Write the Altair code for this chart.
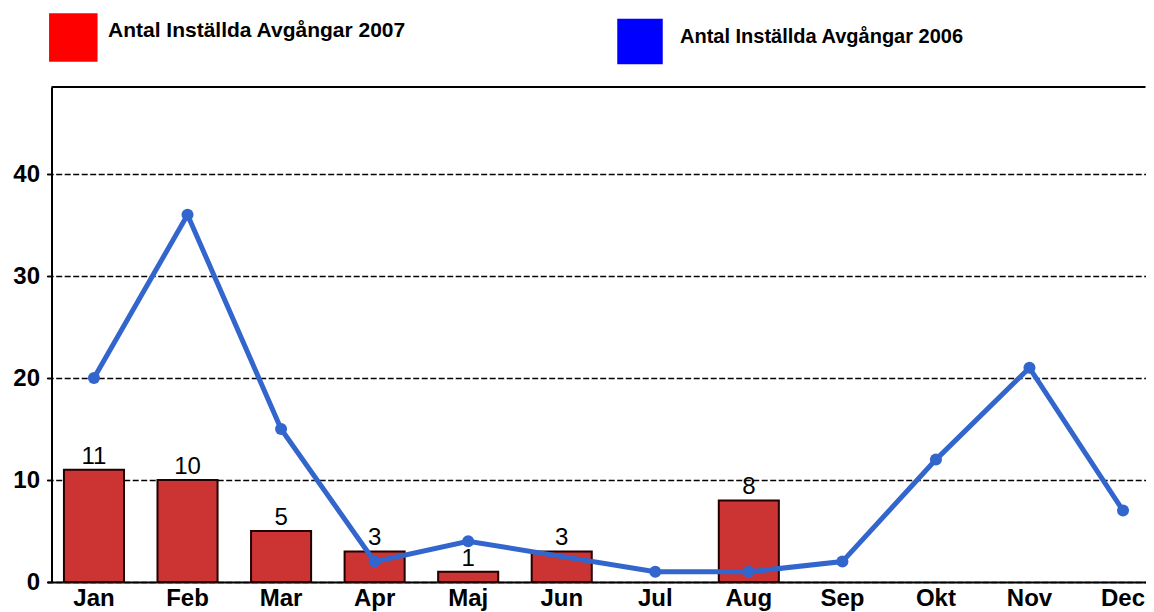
import altair as alt
import pandas as pd

months = ["Jan", "Feb", "Mar", "Apr", "Maj", "Jun", "Jul", "Aug", "Sep", "Okt", "Nov", "Dec"]
cancel_2007 = [11, 10, 5, 3, 1, 3, None, 8, None, None, None, None]
cancel_2006 = [20, 36, 15, 2, 4, None, 1, 1, 2, 12, 21, 7]
legend_labels = ["Antal Inställda Avgångar 2007", "Antal Inställda Avgångar 2006"]
y_ticks = [0, 10, 20, 30, 40]

df = pd.DataFrame({"month": months, "y2007": cancel_2007, "y2006": cancel_2006})

FONT = "Liberation Sans"
W = 1094
H = 495

xscale = alt.Scale(domain=months, range=[-4.3, 1118.3], paddingInner=0.358, paddingOuter=0.179)
yscale = alt.Scale(domain=[0, 48.53], nice=False, zero=True)

x_axis = alt.Axis(
    title=None, labelAngle=0, ticks=False, labelFont=FONT, labelFontSize=24,
    labelFontWeight="bold", labelColor="black", labelPadding=4,
    domainColor="black", domainWidth=2, grid=False,
)
y_axis = alt.Axis(
    title=None, values=y_ticks, labelFont=FONT, labelFontSize=24, labelFontWeight="bold",
    labelColor="black", labelPadding=7, tickSize=5, tickColor="black", tickWidth=1.5,
    domainColor="black", domainWidth=2, grid=True, gridColor="black", gridWidth=1.3,
    gridDash=[6, 2.5], gridOpacity=1,
)

X = alt.X("month:N", sort=months, scale=xscale, axis=x_axis)

bars = alt.Chart(df).transform_filter("datum.y2007 != null").mark_bar(
    fill="#CC3333", stroke="#220000", strokeWidth=2
).encode(x=X, y=alt.Y("y2007:Q", scale=yscale, axis=y_axis))

bar_labels = alt.Chart(df).transform_filter("datum.y2007 != null").mark_text(
    dy=-6, baseline="alphabetic", font=FONT, fontSize=24, color="black"
).encode(x=X, y=alt.Y("y2007:Q", scale=yscale), text="y2007:Q")

line = alt.Chart(df).transform_filter("datum.y2006 != null").mark_line(
    color="#3366CC", strokeWidth=5
).encode(x=X, y=alt.Y("y2006:Q", scale=yscale))

points = alt.Chart(df).transform_filter("datum.y2006 != null").mark_circle(
    color="#3366CC", size=145, opacity=1
).encode(x=X, y=alt.Y("y2006:Q", scale=yscale))

top_border = alt.Chart(pd.DataFrame({"edge": [0]})).mark_rule(color="black", strokeWidth=2).encode(
    x=alt.value(0), x2=alt.value(W), y=alt.value(0), y2=alt.value(0)
)

leg_colors = ["#FF0000", "#0000FF"]
leg_sq = [(21.8, -49.5, 2352), (588.5, -45.5, 2070)]
leg_tx = [(56.5, -50.3, 21), (628.5, -43.7, 20)]
legend_layers = []
for i, lab in enumerate(legend_labels):
    ldf = pd.DataFrame({"label": [lab]})
    sx, sy, ss = leg_sq[i]
    tx, ty, fs = leg_tx[i]
    legend_layers.append(
        alt.Chart(ldf).mark_square(color=leg_colors[i], size=ss, opacity=1).encode(
            x=alt.value(sx), y=alt.value(sy)
        )
    )
    legend_layers.append(
        alt.Chart(ldf).mark_text(
            align="left", baseline="alphabetic", font=FONT, fontSize=fs,
            fontWeight="bold", color="black"
        ).encode(x=alt.value(tx), y=alt.value(ty), text="label:N")
    )

chart = alt.layer(bars, bar_labels, line, points, top_border, *legend_layers).properties(
    width=W, height=H,
    autosize=alt.AutoSizeParams(type="none"),
    padding={"left": 43.5, "top": 79, "right": 0.5, "bottom": 30},
    background="white",
    view=alt.ViewBackground(stroke="transparent", strokeWidth=0),
).configure_view(stroke="transparent", strokeWidth=0)

chart.save("out.html", embed_options={"renderer": "svg", "actions": False})
